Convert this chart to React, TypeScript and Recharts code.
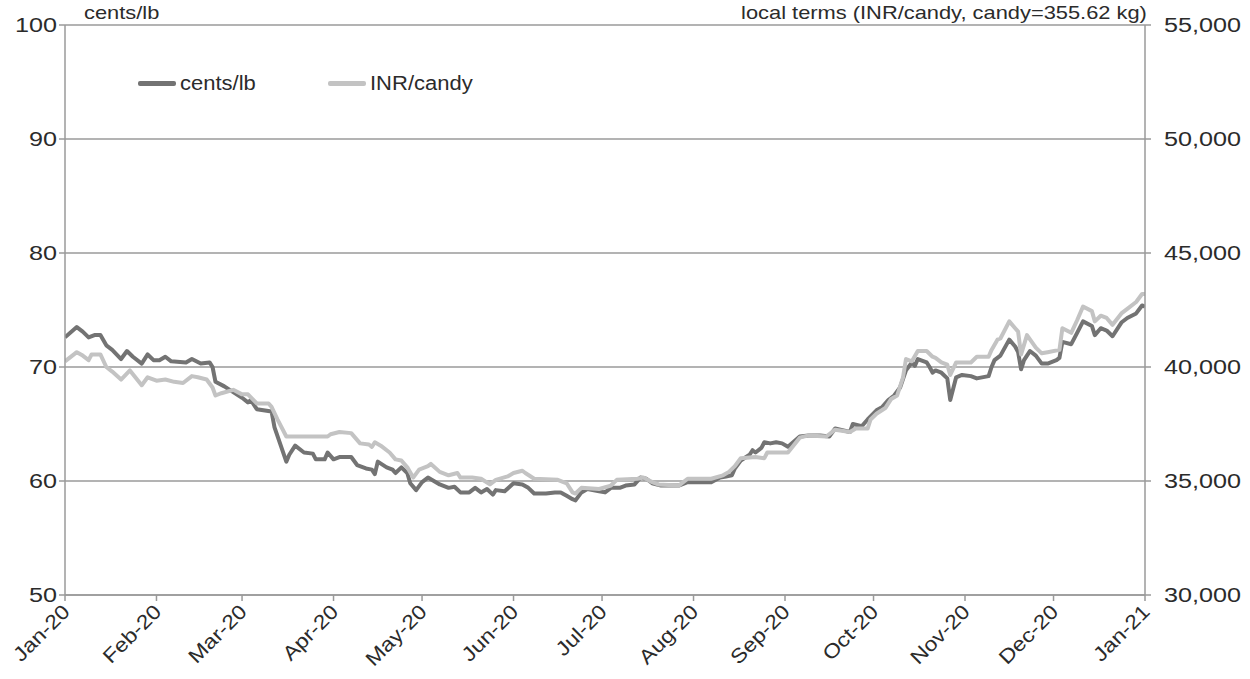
import React from "react";
import { LineChart, Line, XAxis, YAxis, CartesianGrid } from "recharts";

const centsDates = [
  "2020-01-01","2020-01-05","2020-01-07","2020-01-09","2020-01-11","2020-01-13","2020-01-15","2020-01-17","2020-01-20","2020-01-22",
  "2020-01-24","2020-01-27","2020-01-29","2020-01-31","2020-02-02","2020-02-04","2020-02-06","2020-02-11","2020-02-13","2020-02-16",
  "2020-02-19","2020-02-20","2020-02-21","2020-02-24","2020-02-27","2020-03-01","2020-03-03","2020-03-04","2020-03-06","2020-03-11",
  "2020-03-12","2020-03-16","2020-03-17","2020-03-19","2020-03-22","2020-03-25","2020-03-26","2020-03-29","2020-03-30","2020-04-01",
  "2020-04-03","2020-04-07","2020-04-09","2020-04-12","2020-04-14","2020-04-15","2020-04-16","2020-04-19","2020-04-21","2020-04-22",
  "2020-04-24","2020-04-26","2020-04-27","2020-04-29","2020-05-01","2020-05-03","2020-05-07","2020-05-10","2020-05-12","2020-05-14",
  "2020-05-17","2020-05-19","2020-05-21","2020-05-23","2020-05-25","2020-05-26","2020-05-29","2020-06-01","2020-06-04","2020-06-06",
  "2020-06-08","2020-06-12","2020-06-15","2020-06-17","2020-06-19","2020-06-21","2020-06-22","2020-06-24","2020-06-26","2020-06-30",
  "2020-07-02","2020-07-04","2020-07-07","2020-07-09","2020-07-12","2020-07-14","2020-07-16","2020-07-18","2020-07-21","2020-07-27",
  "2020-07-30","2020-08-03","2020-08-07","2020-08-10","2020-08-12","2020-08-14","2020-08-15","2020-08-17","2020-08-20","2020-08-21",
  "2020-08-22","2020-08-24","2020-08-25","2020-08-27","2020-08-29","2020-08-31","2020-09-02","2020-09-06","2020-09-09","2020-09-13",
  "2020-09-16","2020-09-18","2020-09-23","2020-09-24","2020-09-27","2020-09-29","2020-10-02","2020-10-04","2020-10-06","2020-10-08",
  "2020-10-10","2020-10-12","2020-10-14","2020-10-15","2020-10-16","2020-10-19","2020-10-20","2020-10-21","2020-10-22","2020-10-24",
  "2020-10-26","2020-10-27","2020-10-29","2020-10-31","2020-11-03","2020-11-05","2020-11-09","2020-11-10","2020-11-11","2020-11-13",
  "2020-11-16","2020-11-18","2020-11-19","2020-11-20","2020-11-21","2020-11-23","2020-11-25","2020-11-27","2020-11-29","2020-12-02",
  "2020-12-03","2020-12-04","2020-12-07","2020-12-09","2020-12-11","2020-12-14","2020-12-15","2020-12-17","2020-12-19","2020-12-21",
  "2020-12-24","2020-12-26","2020-12-29","2020-12-31","2021-01-01",
];
const centsValues = [
  72.6,73.5,73.1,72.6,72.8,72.8,71.9,71.5,70.7,71.4,
  70.9,70.3,71.1,70.6,70.6,70.9,70.5,70.4,70.7,70.3,
  70.4,70.0,68.7,68.3,67.8,67.3,66.9,67.1,66.3,66.1,
  64.7,61.7,62.3,63.1,62.5,62.4,61.9,61.9,62.5,61.9,
  62.1,62.1,61.4,61.1,61.0,60.6,61.7,61.2,61.0,60.7,
  61.2,60.7,59.8,59.2,59.9,60.3,59.7,59.4,59.5,59.0,
  59.0,59.4,59.0,59.3,58.8,59.2,59.1,59.8,59.7,59.4,
  58.9,58.9,59.0,59.0,58.7,58.4,58.3,59.0,59.3,59.1,
  59.0,59.4,59.4,59.6,59.7,60.3,60.2,59.8,59.6,59.6,
  59.9,59.9,59.9,60.3,60.4,60.5,61.1,61.8,62.3,62.7,
  62.5,62.9,63.4,63.3,63.4,63.3,63.0,63.9,64.0,64.0,
  63.9,64.6,64.3,65.0,64.8,65.4,66.2,66.5,67.1,67.5,
  68.2,69.7,70.4,70.1,70.7,70.4,70.0,69.5,69.7,69.5,
  69.0,67.1,69.1,69.3,69.2,69.0,69.2,70.0,70.6,71.0,
  72.4,71.8,71.3,69.8,70.6,71.4,71.0,70.3,70.3,70.6,
  70.8,72.2,72.0,73.0,74.0,73.6,72.8,73.4,73.2,72.7,
  73.9,74.3,74.7,75.4,75.3,
];

const inrDates = [
  "2020-01-01","2020-01-05","2020-01-07","2020-01-09","2020-01-10","2020-01-13","2020-01-15","2020-01-17","2020-01-20","2020-01-23",
  "2020-01-27","2020-01-29","2020-02-01","2020-02-04","2020-02-07","2020-02-10","2020-02-13","2020-02-15","2020-02-18","2020-02-20",
  "2020-02-21","2020-02-23","2020-02-27","2020-03-01","2020-03-03","2020-03-06","2020-03-10","2020-03-11","2020-03-13","2020-03-16",
  "2020-03-23","2020-03-30","2020-03-31","2020-04-03","2020-04-07","2020-04-10","2020-04-13","2020-04-14","2020-04-15","2020-04-17",
  "2020-04-20","2020-04-22","2020-04-24","2020-04-26","2020-04-28","2020-04-30","2020-05-03","2020-05-04","2020-05-07","2020-05-10",
  "2020-05-13","2020-05-14","2020-05-18","2020-05-21","2020-05-24","2020-05-26","2020-05-30","2020-06-01","2020-06-04","2020-06-05",
  "2020-06-08","2020-06-16","2020-06-19","2020-06-21","2020-06-22","2020-06-24","2020-06-30","2020-07-04","2020-07-06","2020-07-13",
  "2020-07-15","2020-07-18","2020-07-20","2020-07-27","2020-07-30","2020-08-07","2020-08-11","2020-08-13","2020-08-15","2020-08-17",
  "2020-08-22","2020-08-25","2020-08-26","2020-09-02","2020-09-06","2020-09-09","2020-09-15","2020-09-18","2020-09-23","2020-09-25",
  "2020-09-29","2020-09-30","2020-10-02","2020-10-05","2020-10-07","2020-10-09","2020-10-11","2020-10-12","2020-10-14","2020-10-16",
  "2020-10-19","2020-10-21","2020-10-22","2020-10-24","2020-10-26","2020-10-27","2020-10-29","2020-11-03","2020-11-05","2020-11-09",
  "2020-11-10","2020-11-12","2020-11-13","2020-11-16","2020-11-18","2020-11-19","2020-11-20","2020-11-22","2020-11-25","2020-11-27",
  "2020-11-29","2020-12-03","2020-12-04","2020-12-07","2020-12-09","2020-12-11","2020-12-14","2020-12-15","2020-12-17","2020-12-19",
  "2020-12-21","2020-12-24","2020-12-26","2020-12-29","2020-12-31","2021-01-01",
];
const inrValues = [
  40250,40650,40500,40300,40550,40550,40000,39800,39450,39850,
  39200,39550,39400,39450,39350,39300,39600,39550,39450,39100,
  38750,38850,39000,38800,38800,38400,38400,38250,37700,36950,
  36950,36950,37050,37150,37100,36650,36600,36500,36700,36550,
  36250,35950,35900,35600,35150,35500,35650,35750,35400,35250,
  35350,35150,35150,35100,34850,35050,35200,35350,35450,35350,
  35100,35050,34900,34500,34450,34700,34650,34800,35050,35100,
  35150,34950,34850,34800,35100,35100,35250,35400,35650,36000,
  36050,36000,36250,36250,36900,37000,36950,37250,37150,37300,
  37300,37700,37950,38200,38600,38750,39550,40350,40250,40700,
  40700,40450,40400,40200,40100,39650,40200,40200,40450,40450,
  40750,41200,41250,42000,41700,41550,40550,41400,40850,40600,
  40650,40750,41700,41500,42050,42650,42450,42000,42250,42150,
  41850,42350,42550,42850,43200,43200,
];

const monthTicks = [
  "2020-01-01","2020-02-01","2020-03-01","2020-04-01","2020-05-01","2020-06-01","2020-07-01",
  "2020-08-01","2020-09-01","2020-10-01","2020-11-01","2020-12-01","2021-01-01",
];
const monthNames = ["Jan","Feb","Mar","Apr","May","Jun","Jul","Aug","Sep","Oct","Nov","Dec"];
const leftTicks = [50, 60, 70, 80, 90, 100];
const rightTicks = [30000, 35000, 40000, 45000, 50000, 55000];

const seriesNames = ["cents/lb", "INR/candy"];
const leftTitle = "cents/lb";
const rightTitle = "local terms (INR/candy, candy=355.62 kg)";

const centsData = centsDates.map((d, i) => ({ t: Date.parse(d), v: centsValues[i] }));
const inrData = inrDates.map((d, i) => ({ t: Date.parse(d), v: inrValues[i] }));
const tickTimes = monthTicks.map((d) => Date.parse(d));

const DARK = "#737373";
const LIGHT = "#c3c3c3";
const AXIS = "#9a9a9a";
const TEXT = "#2b2b2b";
const FONT = "'Liberation Sans', Arial, sans-serif";
const SX = 1.15;
const TSX = 1.2;

const fmtMonth = (t: number) => {
  const d = new Date(t);
  return `${monthNames[d.getUTCMonth()]}-${String(d.getUTCFullYear()).slice(2)}`;
};
const fmtThousands = (v: number) => v.toLocaleString("en-US");

const LeftTick = (props: any) => {
  const { x, y, payload } = props;
  return (
    <text x={x} y={y} dy={7} textAnchor="end" fontSize={21} fill={TEXT} fontFamily={FONT}
      transform={`translate(${x},0) scale(${TSX},1) translate(${-x},0)`}>
      {payload.value}
    </text>
  );
};
const RightTick = (props: any) => {
  const { x, y, payload } = props;
  const px = x + 11;
  return (
    <text x={px} y={y} dy={7} textAnchor="start" fontSize={21} fill={TEXT} fontFamily={FONT}
      transform={`translate(${px},0) scale(${TSX},1) translate(${-px},0)`}>
      {fmtThousands(payload.value)}
    </text>
  );
};
const XTick = (props: any) => {
  const { x, y, payload } = props;
  return (
    <g transform={`translate(${x + 6},${y + 10})`}>
      <text x={0} y={0} textAnchor="end" fontSize={20} fill={TEXT} fontFamily={FONT}
        transform={`rotate(-45) scale(${SX},1)`}>
        {fmtMonth(payload.value)}
      </text>
    </g>
  );
};

const textStyle: React.CSSProperties = {
  position: "absolute",
  fontFamily: FONT,
  fontSize: 19,
  color: TEXT,
  whiteSpace: "nowrap",
  lineHeight: "20px",
};

export default function App() {
  return (
    <div style={{ position: "absolute", left: 0, top: 0, width: 1250, height: 679, background: "#fff" }}>
      <LineChart width={1250} height={679} margin={{ top: 25, right: 0, bottom: 0, left: 0 }}>
        <CartesianGrid yAxisId="left" vertical={false} stroke={AXIS} strokeWidth={1.3} />
        <XAxis
          dataKey="t"
          type="number"
          domain={[tickTimes[0], tickTimes[tickTimes.length - 1]]}
          ticks={tickTimes}
          allowDataOverflow
          height={84}
          tick={<XTick />}
          tickSize={6}
          interval={0}
          axisLine={{ stroke: AXIS, strokeWidth: 1.5 }}
          tickLine={{ stroke: AXIS, strokeWidth: 1.5 }}
        />
        <YAxis
          yAxisId="left"
          domain={[50, 100]}
          ticks={leftTicks}
          width={65}
          tick={<LeftTick />}
          tickSize={6}
          interval={0}
          axisLine={{ stroke: AXIS, strokeWidth: 1.5 }}
          tickLine={{ stroke: AXIS, strokeWidth: 1.5 }}
        />
        <YAxis
          yAxisId="right"
          orientation="right"
          domain={[30000, 55000]}
          ticks={rightTicks}
          width={105}
          tick={<RightTick />}
          tickSize={6}
          interval={0}
          axisLine={{ stroke: AXIS, strokeWidth: 1.5 }}
          tickLine={{ stroke: AXIS, strokeWidth: 1.5 }}
        />
        <Line
          yAxisId="left"
          data={centsData}
          dataKey="v"
          name={seriesNames[0]}
          type="linear"
          stroke={DARK}
          strokeWidth={4}
          dot={false}
          isAnimationActive={false}
          strokeLinejoin="round"
        />
        <Line
          yAxisId="right"
          data={inrData}
          dataKey="v"
          name={seriesNames[1]}
          type="linear"
          stroke={LIGHT}
          strokeWidth={4}
          dot={false}
          isAnimationActive={false}
          strokeLinejoin="round"
        />
      </LineChart>
      <div style={{ ...textStyle, left: 84, top: 3, transform: `scaleX(${SX})`, transformOrigin: "left" }}>{leftTitle}</div>
      <div style={{ ...textStyle, right: 103, top: 3, transform: `scaleX(${SX})`, transformOrigin: "right" }}>{rightTitle}</div>
      <div style={{ position: "absolute", left: 138, top: 73, display: "flex", alignItems: "center" }}>
        <div style={{ width: 38, height: 5, background: DARK, borderRadius: 2 }} />
        <div style={{ ...textStyle, position: "relative", fontSize: 20, marginLeft: 4, transform: "scaleX(1.1)", transformOrigin: "left" }}>{seriesNames[0]}</div>
        <div style={{ width: 38, height: 5, background: LIGHT, borderRadius: 2, marginLeft: 79 }} />
        <div style={{ ...textStyle, position: "relative", fontSize: 20, marginLeft: 4, transform: "scaleX(1.1)", transformOrigin: "left" }}>{seriesNames[1]}</div>
      </div>
    </div>
  );
}
